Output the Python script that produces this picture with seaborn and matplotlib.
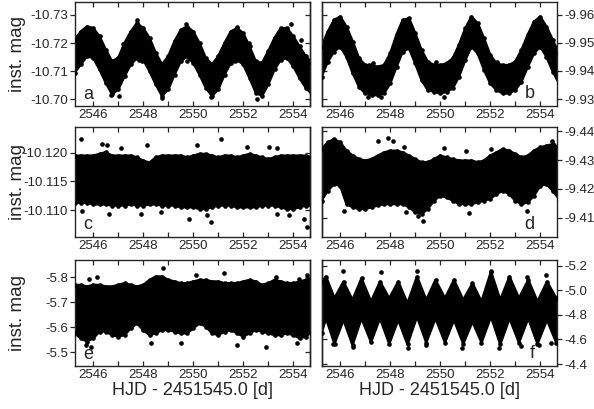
import matplotlib
matplotlib.use("Agg")
import matplotlib.pyplot as plt
import seaborn as sns
from matplotlib.ticker import MultipleLocator, FormatStrFormatter

# time axis: HJD - 2451545.0 [d], envelope sampling for panels a-e
t_grid = [2545.25, 2545.50, 2545.75, 2546.00, 2546.25, 2546.50, 2546.75, 2547.00,
          2547.25, 2547.50, 2547.75, 2548.00, 2548.25, 2548.50, 2548.75, 2549.00,
          2549.25, 2549.50, 2549.75, 2550.00, 2550.25, 2550.50, 2550.75, 2551.00,
          2551.25, 2551.50, 2551.75, 2552.00, 2552.25, 2552.50, 2552.75, 2553.00,
          2553.25, 2553.50, 2553.75, 2554.00, 2554.25, 2554.50, 2554.75]

# panel a: bright / faint edge of the dense band (inst. mag)
a_top = [-10.7212, -10.7241, -10.7259, -10.7253, -10.7224, -10.7177, -10.7135, -10.7147,
         -10.7200, -10.7241, -10.7271, -10.7253, -10.7218, -10.7165, -10.7124, -10.7153,
         -10.7206, -10.7247, -10.7259, -10.7241, -10.7200, -10.7147, -10.7124, -10.7153,
         -10.7200, -10.7241, -10.7253, -10.7235, -10.7188, -10.7135, -10.7129, -10.7171,
         -10.7218, -10.7253, -10.7253, -10.7224, -10.7188, -10.7153, -10.7129]
a_bot = [-10.7094, -10.7124, -10.7153, -10.7147, -10.7106, -10.7059, -10.7018, -10.7035,
         -10.7082, -10.7124, -10.7147, -10.7141, -10.7100, -10.7053, -10.7012, -10.7035,
         -10.7088, -10.7135, -10.7153, -10.7129, -10.7088, -10.7041, -10.7012, -10.7035,
         -10.7088, -10.7129, -10.7141, -10.7124, -10.7076, -10.7024, -10.7012, -10.7053,
         -10.7106, -10.7141, -10.7147, -10.7118, -10.7076, -10.7041, -10.7018]
a_out_t = [2547.20, 2547.83, 2547.96, 2549.76, 2551.65, 2552.23, 2553.89, 2554.29, 2546.69,
           2547.03, 2548.76, 2550.69, 2552.56, 2547.76, 2549.69, 2551.76, 2545.69]
a_out_m = [-10.7196, -10.7141, -10.7135, -10.7135, -10.7135, -10.7200, -10.7268, -10.7212, -10.7014,
           -10.7012, -10.7006, -10.7009, -10.7002, -10.7282, -10.7268, -10.7256, -10.7253]

# panel b
b_top = [-9.9487, -9.9540, -9.9582, -9.9594, -9.9558, -9.9505, -9.9445, -9.9421,
         -9.9421, -9.9415, -9.9421, -9.9463, -9.9529, -9.9582, -9.9588, -9.9535,
         -9.9475, -9.9433, -9.9421, -9.9421, -9.9427, -9.9445, -9.9493, -9.9552,
         -9.9594, -9.9570, -9.9517, -9.9457, -9.9427, -9.9421, -9.9421, -9.9433,
         -9.9475, -9.9529, -9.9576, -9.9594, -9.9558, -9.9511, -9.9463]
b_bot = [-9.9380, -9.9433, -9.9469, -9.9487, -9.9451, -9.9392, -9.9344, -9.9320,
         -9.9314, -9.9314, -9.9320, -9.9356, -9.9415, -9.9469, -9.9481, -9.9427,
         -9.9368, -9.9332, -9.9326, -9.9320, -9.9326, -9.9338, -9.9380, -9.9439,
         -9.9487, -9.9463, -9.9404, -9.9356, -9.9332, -9.9320, -9.9320, -9.9332,
         -9.9362, -9.9415, -9.9463, -9.9487, -9.9451, -9.9398, -9.9356]
b_out_t = [2547.16, 2547.29, 2547.63, 2550.16, 2549.83, 2552.29, 2547.09]
b_out_m = [-9.9421, -9.9427, -9.9308, -9.9308, -9.9433, -9.9433, -9.9308]

# panel c
c_top = [-10.1195, -10.1195, -10.1195, -10.1195, -10.1198, -10.1201, -10.1195, -10.1195,
         -10.1195, -10.1195, -10.1192, -10.1186, -10.1183, -10.1192, -10.1195, -10.1195,
         -10.1195, -10.1195, -10.1192, -10.1195, -10.1198, -10.1198, -10.1195, -10.1192,
         -10.1195, -10.1195, -10.1192, -10.1195, -10.1198, -10.1195, -10.1192, -10.1189,
         -10.1192, -10.1195, -10.1195, -10.1195, -10.1195, -10.1195, -10.1192]
c_bot = [-10.1113, -10.1113, -10.1113, -10.1110, -10.1110, -10.1110, -10.1108, -10.1108,
         -10.1108, -10.1110, -10.1108, -10.1108, -10.1110, -10.1110, -10.1108, -10.1108,
         -10.1108, -10.1105, -10.1105, -10.1105, -10.1102, -10.1102, -10.1105, -10.1108,
         -10.1108, -10.1108, -10.1105, -10.1105, -10.1105, -10.1105, -10.1108, -10.1108,
         -10.1108, -10.1105, -10.1102, -10.1102, -10.1105, -10.1108, -10.1108]
c_out_t = [2545.49, 2546.36, 2546.56, 2548.16, 2550.13, 2551.12, 2552.16, 2553.03, 2553.36,
           2547.09, 2545.56, 2546.63, 2547.89, 2548.69, 2549.83, 2550.69, 2550.56, 2553.36,
           2553.83, 2554.43, 2554.56]
c_out_m = [-10.1224, -10.1215, -10.1213, -10.1213, -10.1214, -10.1224, -10.1211, -10.1210, -10.1209,
           -10.1209, -10.1099, -10.1093, -10.1093, -10.1096, -10.1085, -10.1080, -10.1091, -10.1093,
           -10.1091, -10.1085, -10.1070]

# panel d
d_top = [-9.4338, -9.4361, -9.4372, -9.4361, -9.4332, -9.4315, -9.4303, -9.4298,
         -9.4303, -9.4315, -9.4326, -9.4332, -9.4332, -9.4326, -9.4315, -9.4303,
         -9.4292, -9.4292, -9.4303, -9.4315, -9.4309, -9.4303, -9.4298, -9.4298,
         -9.4298, -9.4292, -9.4298, -9.4315, -9.4326, -9.4338, -9.4332, -9.4321,
         -9.4309, -9.4315, -9.4332, -9.4344, -9.4349, -9.4355, -9.4344]
d_bot = [-9.4160, -9.4194, -9.4217, -9.4211, -9.4148, -9.4137, -9.4131, -9.4131,
         -9.4137, -9.4143, -9.4148, -9.4148, -9.4148, -9.4148, -9.4137, -9.4120,
         -9.4114, -9.4131, -9.4160, -9.4177, -9.4171, -9.4160, -9.4148, -9.4148,
         -9.4148, -9.4154, -9.4160, -9.4166, -9.4183, -9.4194, -9.4183, -9.4160,
         -9.4148, -9.4154, -9.4177, -9.4211, -9.4217, -9.4194, -9.4166]
d_out_t = [2547.49, 2547.89, 2548.09, 2548.56, 2550.16, 2551.03, 2552.03, 2553.09, 2554.49,
           2546.16, 2548.63, 2549.09, 2549.29, 2551.16, 2553.49]
d_out_m = [-9.4367, -9.4376, -9.4367, -9.4344, -9.4342, -9.4332, -9.4338, -9.4315, -9.4367,
           -9.4125, -9.4120, -9.4108, -9.4089, -9.4117, -9.4123]

# panel e
e_top = [-5.769, -5.769, -5.763, -5.769, -5.769, -5.763, -5.763, -5.769, -5.776, -5.769,
         -5.763, -5.769, -5.789, -5.803, -5.803, -5.789, -5.783, -5.776, -5.776, -5.783,
         -5.789, -5.789, -5.783, -5.783, -5.776, -5.776, -5.776, -5.783, -5.789, -5.783,
         -5.769, -5.776, -5.789, -5.783, -5.776, -5.776, -5.783, -5.789, -5.796]
e_bot = [-5.576, -5.556, -5.543, -5.556, -5.583, -5.583, -5.569, -5.563, -5.569, -5.596,
         -5.616, -5.589, -5.569, -5.576, -5.589, -5.589, -5.583, -5.576, -5.576, -5.596,
         -5.616, -5.603, -5.576, -5.569, -5.583, -5.589, -5.576, -5.563, -5.576, -5.589,
         -5.583, -5.576, -5.569, -5.569, -5.576, -5.569, -5.556, -5.563, -5.583]
e_out_t = [2548.80, 2545.83, 2546.16, 2551.23, 2553.29, 2554.23, 2554.56, 2550.09,
           2545.69, 2545.89, 2548.29, 2549.49, 2551.76, 2552.89, 2554.16]
e_out_m = [-5.836, -5.793, -5.803, -5.816, -5.803, -5.793, -5.809, -5.809,
           -5.529, -5.523, -5.536, -5.536, -5.529, -5.523, -5.536]

# panel f: short-period pulsation, edges read at maxima / minima
f_top_t = [2545.25, 2545.43, 2545.77, 2546.13, 2546.49, 2546.85, 2547.23, 2547.59, 2547.96,
           2548.32, 2548.69, 2549.07, 2549.44, 2549.81, 2550.19, 2550.55, 2550.92, 2551.29,
           2551.65, 2552.03, 2552.40, 2552.77, 2553.15, 2553.52, 2553.89, 2554.27, 2554.64,
           2554.75]
f_top_m = [-5.070, -5.111, -4.935, -5.070, -4.921, -5.097, -4.908, -5.070, -4.935,
           -5.070, -4.894, -5.111, -4.921, -5.084, -4.935, -5.084, -4.921, -5.057,
           -4.908, -5.151, -4.921, -5.111, -4.935, -5.084, -4.908, -5.070, -4.935,
           -4.960]
f_bot_t = f_top_t
f_bot_m = [-4.650, -4.772, -4.565, -4.759, -4.555, -4.772, -4.580, -4.772, -4.565,
           -4.759, -4.560, -4.786, -4.575, -4.772, -4.575, -4.759, -4.565, -4.745,
           -4.575, -4.786, -4.560, -4.772, -4.575, -4.772, -4.565, -4.759, -4.575,
           -4.600]
f_out_t = [2546.09, 2547.63, 2549.07, 2552.03, 2553.49, 2554.23, 2545.69, 2546.49,
           2548.69, 2549.43, 2550.89, 2552.36, 2553.23, 2553.96, 2554.43]
f_out_m = [-5.157, -5.152, -5.160, -5.160, -5.111, -5.120, -4.560, -4.542,
           -4.528, -4.555, -4.528, -4.528, -4.550, -4.555, -4.569]

x_range = (2545.27, 2554.67)

sns.set_style("ticks")
plt.rcParams["font.family"] = ["Liberation Sans", "DejaVu Sans"]
plt.rcParams["axes.unicode_minus"] = False
plt.rcParams["axes.linewidth"] = 1.0

fig = plt.figure(figsize=(5.94, 4.09), dpi=100)

col_left = [0.1263, 0.5421]
col_w = 0.3956
rows = [(0.7408, 0.2555), (0.4205, 0.2689), (0.1051, 0.2604)]

panels = [
    ("a", t_grid, a_top, t_grid, a_bot, a_out_t, a_out_m, (-10.6976, -10.7348),
     [-10.73, -10.72, -10.71, -10.70], "%.2f"),
    ("b", t_grid, b_top, t_grid, b_bot, b_out_t, b_out_m, (-9.9275, -9.9648),
     [-9.96, -9.95, -9.94, -9.93], "%.2f"),
    ("c", t_grid, c_top, t_grid, c_bot, c_out_t, c_out_m, (-10.1053, -10.1245),
     [-10.120, -10.115, -10.110], "%.3f"),
    ("d", t_grid, d_top, t_grid, d_bot, d_out_t, d_out_m, (-9.4034, -9.4414),
     [-9.44, -9.43, -9.42, -9.41], "%.2f"),
    ("e", t_grid, e_top, t_grid, e_bot, e_out_t, e_out_m, (-5.445, -5.871),
     [-5.8, -5.7, -5.6, -5.5], "%.1f"),
    ("f", f_top_t, f_top_m, f_bot_t, f_bot_m, f_out_t, f_out_m, (-4.384, -5.250),
     [-5.2, -5.0, -4.8, -4.6, -4.4], "%.1f"),
]

for i, (letter, tt, mt, tb, mb, ot, om, ylim, yticks, fmt) in enumerate(panels):
    row, col = i // 2, i % 2
    ax = fig.add_axes([col_left[col], rows[row][0], col_w, rows[row][1]])

    # dense band of points: outline polygon from the two edges
    ax.fill(list(tt) + list(tb)[::-1], list(mt) + list(mb)[::-1],
            color="black", lw=1.8, joinstyle="round", zorder=2)
    edge_t = list(tt) + list(tb) + list(ot)
    edge_m = list(mt) + list(mb) + list(om)
    sns.scatterplot(x=edge_t, y=edge_m, ax=ax, color="black", s=11,
                    linewidth=0, legend=False, zorder=3)

    ax.set_xlim(*x_range)
    ax.set_ylim(*ylim)
    ax.xaxis.set_major_locator(MultipleLocator(2))
    ax.xaxis.set_minor_locator(MultipleLocator(1))
    ax.tick_params(axis="x", which="both", direction="in", top=True, bottom=True,
                   length=3.5, width=0.9, labelsize=9.5, pad=2.5)
    ax.set_yticks(yticks)
    ax.yaxis.set_major_formatter(FormatStrFormatter(fmt))

    inner_side = "right" if col == 0 else "left"
    sec = ax.secondary_yaxis(inner_side, functions=(lambda v: v, lambda v: v))
    sec.set_yticks(yticks)
    sec.tick_params(axis="y", direction="in", length=3.5, width=0.9,
                    labelleft=False, labelright=False)

    if col == 0:
        ax.tick_params(axis="y", direction="out", left=True, right=False,
                       length=3.5, width=0.9, labelsize=9.5, pad=1.5)
        ax.set_ylabel("inst. mag", fontsize=13.5)
        ax.yaxis.set_label_coords(-0.21, 0.5)
        ax.text(0.034, 0.07, letter, transform=ax.transAxes, fontsize=13,
                ha="left", va="baseline", zorder=4)
    else:
        ax.yaxis.tick_right()
        ax.tick_params(axis="y", direction="out", left=False, right=True,
                       length=3.5, width=0.9, labelsize=9.5, pad=1.5)
        ax.text(0.905, 0.075, letter, transform=ax.transAxes, fontsize=13,
                ha="right", va="baseline", zorder=4)

    if row == 2:
        ax.set_xlabel("HJD - 2451545.0 [d]", fontsize=13)
        ax.xaxis.set_label_coords(0.5, -0.15)

fig.savefig("out.png", dpi=100)
